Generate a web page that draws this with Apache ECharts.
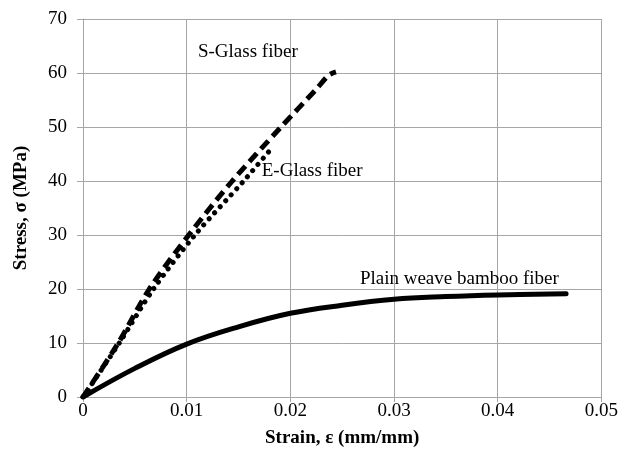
<!DOCTYPE html>
<html>
<head>
<meta charset="utf-8">
<script src="https://cdn.jsdelivr.net/npm/echarts@6/dist/echarts.min.js"></script>
<style>
  html, body { margin: 0; padding: 0; background: #fff; }
  #chart { width: 621px; height: 456px; }
</style>
</head>
<body>
<div id="chart"></div>
<script>
// strain (mm/mm), stress (MPa)
const sGlassStrain = [0, 0.0034, 0.0064, 0.0102, 0.0144, 0.0191, 0.0225, 0.0237, 0.0244];
const sGlassStress = [0, 10, 20, 30, 40, 50, 57, 59.6, 60.2];

const eGlassStrain = [0, 0.0035, 0.0068, 0.0108, 0.0155, 0.0183];
const eGlassStress = [0, 10, 20, 30, 40, 46.3];

const bambooStrain = [0, 0.005, 0.01, 0.015, 0.02, 0.025, 0.03, 0.035, 0.04, 0.0466];
const bambooStress = [0, 5.3, 9.8, 13.0, 15.5, 17.0, 18.1, 18.6, 18.9, 19.1];

const xTicks = [0, 0.01, 0.02, 0.03, 0.04, 0.05];

const labels = [
  { text: "S-Glass fiber", at: [0.0159, 63.8] },
  { text: "E-Glass fiber", at: [0.0221, 41.9] },
  { text: "Plain weave bamboo fiber", at: [0.0363, 21.8] },
];

const pairs = (xs, ys) => xs.map((x, i) => [x, ys[i]]);
const font = "'Liberation Serif', 'Times New Roman', serif";
const grid = "#a6a6a6";
const fs = 19;

const chart = echarts.init(document.getElementById("chart"));

const labelPoints = labels.map((l) => ({
  coord: l.at,
  symbolSize: 0,
  label: {
    show: true,
    position: "inside",
    formatter: l.text,
    fontFamily: font,
    fontSize: fs,
    color: "#000",
  },
}));

chart.setOption({
  animation: false,
  grid: { left: 83, right: 18, top: 19, bottom: 59 },
  xAxis: {
    type: "value",
    min: 0,
    max: 0.05,
    interval: 0.01,
    name: "Strain, ε (mm/mm)",
    nameLocation: "middle",
    nameGap: 32,
    nameTextStyle: { fontFamily: font, fontSize: fs, fontWeight: "bold", color: "#000" },
    axisLine: { show: true, onZero: false, lineStyle: { color: grid, width: 1 } },
    axisTick: { show: true, length: 5, lineStyle: { color: grid } },
    axisLabel: {
      fontFamily: font,
      fontSize: fs,
      color: "#000",
      margin: 5,
      formatter: (v) => {
        const t = xTicks.find((k) => Math.abs(k - v) < 1e-9);
        return t === 0 ? "0" : String(+t.toFixed(2));
      },
    },
    splitLine: { show: true, lineStyle: { color: grid, width: 1 } },
  },
  yAxis: {
    type: "value",
    min: 0,
    max: 70,
    interval: 10,
    name: "Stress, σ (MPa)",
    nameLocation: "middle",
    nameGap: 52,
    nameTextStyle: { fontFamily: font, fontSize: fs, fontWeight: "bold", color: "#000" },
    axisLine: { show: true, lineStyle: { color: grid, width: 1 } },
    axisTick: { show: true, length: 6, lineStyle: { color: grid } },
    axisLabel: { fontFamily: font, fontSize: fs, color: "#000", margin: 16 },
    splitLine: { show: true, lineStyle: { color: grid, width: 1 } },
  },
  series: [
    {
      name: "Plain weave bamboo fiber",
      type: "line",
      data: pairs(bambooStrain, bambooStress),
      smooth: 0.4,
      showSymbol: false,
      lineStyle: { color: "#000", width: 5, cap: "round" },
      markPoint: { symbol: "circle", data: [labelPoints[2]] },
      z: 3,
    },
    {
      name: "S-Glass fiber",
      type: "line",
      data: pairs(sGlassStrain, sGlassStress),
      smooth: 0.3,
      showSymbol: false,
      lineStyle: { color: "#000", width: 5, type: [11, 6], cap: "butt" },
      markPoint: { symbol: "circle", data: [labelPoints[0]] },
      z: 3,
    },
    {
      name: "E-Glass fiber",
      type: "line",
      data: pairs(eGlassStrain, eGlassStress),
      smooth: 0.3,
      showSymbol: false,
      lineStyle: { color: "#000", width: 5, type: [0.1, 8], cap: "round" },
      markPoint: { symbol: "circle", data: [labelPoints[1]] },
      z: 3,
    },
  ],
});
</script>
</body>
</html>
